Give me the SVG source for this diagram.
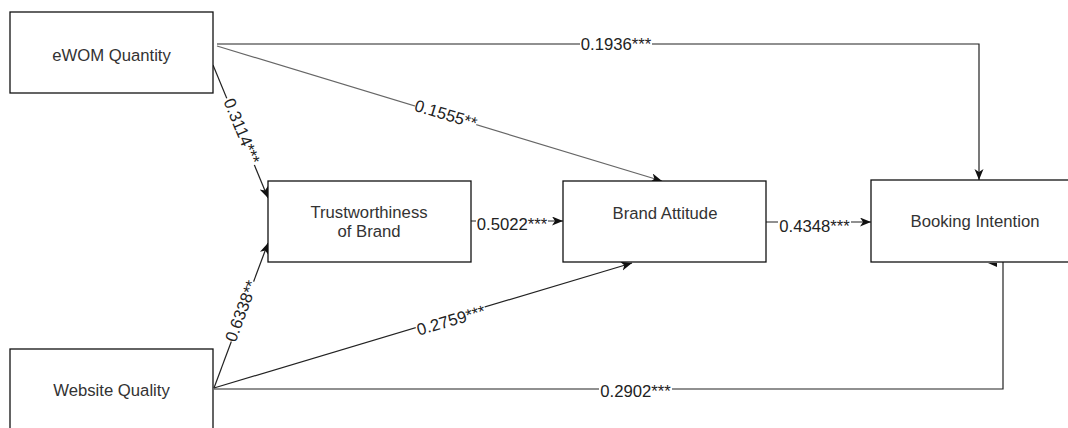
<svg xmlns="http://www.w3.org/2000/svg" width="1068" height="428" viewBox="0 0 1068 428">
<style>
.box{fill:#fff;stroke:#111;stroke-width:1.3}
.nt{font-family:"Liberation Sans",Arial,Helvetica,sans-serif;font-size:16.7px;fill:#333;text-anchor:middle}
.lt{font-family:"Liberation Sans",Arial,Helvetica,sans-serif;font-size:16.7px;fill:#222;text-anchor:middle}
.ln{fill:none;stroke:#222;stroke-width:1.2}
.lg{fill:none;stroke:#666;stroke-width:1.2}
.bg{fill:#fff}
</style>
<defs>
<marker id="arr" markerUnits="userSpaceOnUse" markerWidth="12" markerHeight="10" refX="11" refY="4.5" orient="auto">
<path d="M0,0 L11,4.5 L0,9 L3,4.5 Z" fill="#111"/>
</marker>
</defs>
<rect width="1068" height="428" fill="#fff"/>
<g id="connectors">
<path class="ln" d="M217,44 H979 V180" marker-end="url(#arr)"/>
<path class="lg" d="M217,46 L662,181" marker-end="url(#arr)"/>
<path class="ln" d="M213,65 L268,198" marker-end="url(#arr)"/>
<path class="ln" d="M214,388 L268,243" marker-end="url(#arr)"/>
<path class="ln" d="M214,388 L632,263" marker-end="url(#arr)"/>
<path class="ln" d="M214,389 H1003 V262"/>
<polygon points="988,263 997,263 997,267" fill="#111"/>
<path class="ln" d="M471,221 H563" marker-end="url(#arr)"/>
<path class="ln" d="M766,222 H871" marker-end="url(#arr)"/>
</g>
<g id="edge-labels">
<rect class="bg" x="580" y="37" width="72" height="15"/>
<text class="lt" x="616" y="50">0.1936***</text>
<rect class="bg" x="476" y="213" width="72" height="20"/>
<text class="lt" x="512" y="230">0.5022***</text>
<rect class="bg" x="778" y="214" width="73" height="20"/>
<text class="lt" x="814.5" y="232">0.4348***</text>
<rect class="bg" x="599" y="382" width="73" height="17"/>
<text class="lt" x="635.5" y="397">0.2902***</text>
<g transform="translate(446,114) rotate(16.9)">
<rect class="bg" x="-32" y="-8" width="64" height="16"/>
<text class="lt" x="0" y="6">0.1555**</text>
</g>
<g transform="translate(242,131) rotate(67.5)">
<rect class="bg" x="-36" y="-8" width="72" height="16"/>
<text class="lt" x="0" y="6">0.3114***</text>
</g>
<g transform="translate(241,311) rotate(-69.6)">
<rect class="bg" x="-32" y="-8" width="64" height="16"/>
<text class="lt" x="0" y="6">0.6338**</text>
</g>
<g transform="translate(451,320) rotate(-16.4)">
<rect class="bg" x="-36" y="-8" width="72" height="16"/>
<text class="lt" x="0" y="6">0.2759***</text>
</g>
</g>
<g id="eWOM">
<rect class="box" x="10" y="12" width="203" height="81"/>
<text class="nt" x="111.5" y="60.5">eWOM Quantity</text>
</g>
<g id="website">
<rect class="box" x="10" y="349" width="203" height="100"/>
<text class="nt" x="111.5" y="396">Website Quality</text>
</g>
<g id="trust">
<rect class="box" x="268" y="181" width="203" height="81"/>
<text class="nt" x="369" y="218">Trustworthiness</text>
<text class="nt" x="369" y="237">of Brand</text>
</g>
<g id="attitude">
<rect class="box" x="563" y="181" width="203" height="81"/>
<text class="nt" x="665" y="219">Brand Attitude</text>
</g>
<g id="booking">
<rect class="box" x="871" y="180" width="208" height="82"/>
<text class="nt" x="975" y="227">Booking Intention</text>
</g>
</svg>
